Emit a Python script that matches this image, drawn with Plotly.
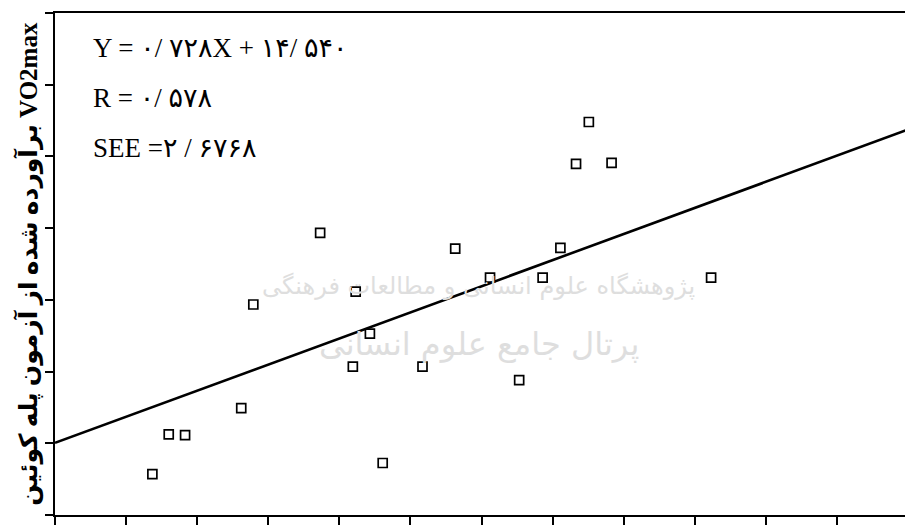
import plotly.graph_objects as go

# Observed data (actual VO2max on X, step-test estimated VO2max on Y)
x_vals = [25.37, 25.60, 25.83, 26.62, 26.79, 27.73, 28.23, 28.19, 28.43, 28.61,
          29.17, 29.63, 30.12, 30.53, 30.86, 31.11, 31.33, 31.51, 31.83, 33.23]
y_vals = [31.14, 32.25, 32.23, 32.98, 35.87, 37.87, 36.23, 34.14, 35.06, 31.45,
          34.14, 37.43, 36.62, 33.76, 36.62, 37.45, 39.79, 40.96, 39.82, 36.62]

# Regression line Y = 0.728X + 14.540
slope = 0.728
intercept = 14.540
line_x = [24, 36]
line_y = [slope * v + intercept for v in line_x]

x_ticks = list(range(24, 37, 1))
y_ticks = list(range(30, 45, 2))

stat_lines = ["Y = ۰/ ۷۲۸X + ۱۴/ ۵۴۰", "R = ۰/ ۵۷۸", "SEE =۲ / ۶۷۶۸"]
y_title = "<b>برآورده شده از آزمون پله کوئین</b> <b><span style='font-size:25px'>VO2max</span></b>"
watermark = ["پژوهشگاه علوم انسانی و مطالعات فرهنگی", "پرتال جامع علوم انسانی"]

fig = go.Figure()
fig.add_trace(go.Scatter(x=line_x, y=line_y, mode="lines",
                         line=dict(color="black", width=2.6), hoverinfo="skip"))
fig.add_trace(go.Scatter(x=x_vals, y=y_vals, mode="markers",
                         marker=dict(symbol="square-open", size=9,
                                     color="black", line=dict(width=1.7, color="black"))))

axis_common = dict(showgrid=False, zeroline=False, showline=True, linecolor="black",
                   linewidth=2, mirror=True, ticks="outside", ticklen=8, tickwidth=1.5,
                   tickcolor="black", showticklabels=False)
fig.update_xaxes(range=[24, 36], tickvals=x_ticks, **axis_common)
fig.update_yaxes(range=[30, 44], tickvals=y_ticks, **axis_common)

ann = []
for i, t in enumerate(stat_lines):
    ann.append(dict(text=t, xref="paper", yref="paper", x=0.042, y=[0.930, 0.831, 0.732][i],
                    xanchor="left", yanchor="middle", showarrow=False,
                    font=dict(family="Liberation Serif, DejaVu Sans", size=27, color="black")))
ann.append(dict(text=y_title, xref="paper", yref="paper", x=-0.032, y=0.5,
                xanchor="center", yanchor="middle", textangle=-90, showarrow=False,
                font=dict(family="Liberation Serif, DejaVu Sans", size=25, color="black")))
ann.append(dict(text=watermark[0], xref="paper", yref="paper", x=0.497, y=0.457,
                showarrow=False, font=dict(family="DejaVu Sans", size=24, color="#dedede")))
ann.append(dict(text=watermark[1], xref="paper", yref="paper", x=0.497, y=0.298,
                showarrow=False, font=dict(family="DejaVu Sans", size=32, color="#dedede")))

# page body has an 8px margin; size the figure so the plot box lands where the reference has it
fig.update_layout(width=905, height=520, margin=dict(l=47, r=3, t=4, b=13),
                  plot_bgcolor="white", paper_bgcolor="white", showlegend=False,
                  annotations=ann)

fig.write_html("out.html")
